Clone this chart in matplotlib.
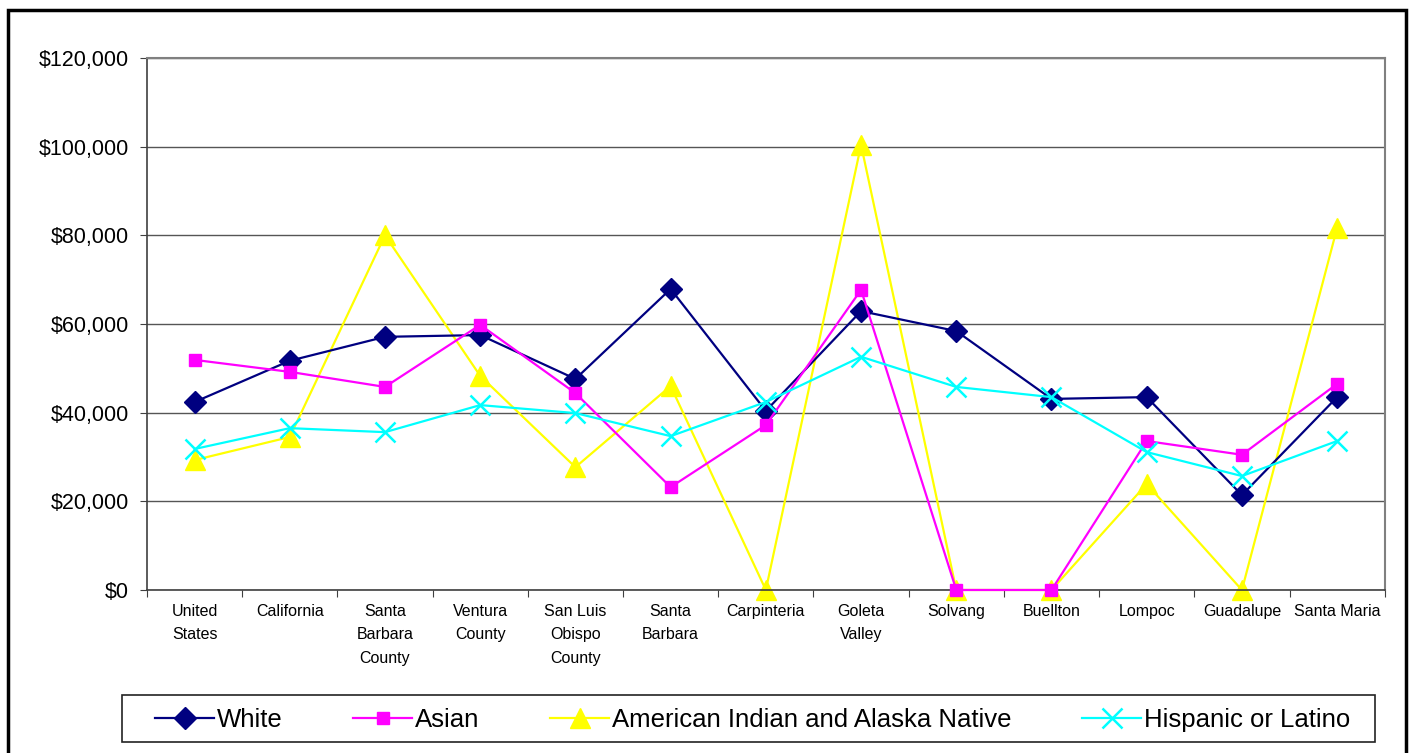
"""Median household income by race for Santa Barbara County area places."""

import matplotlib

matplotlib.use("Agg")

from matplotlib import pyplot as plt
from matplotlib.patches import Rectangle
from matplotlib.ticker import FuncFormatter

places = [
    "United\nStates",
    "California",
    "Santa\nBarbara\nCounty",
    "Ventura\nCounty",
    "San Luis\nObispo\nCounty",
    "Santa\nBarbara",
    "Carpinteria",
    "Goleta\nValley",
    "Solvang",
    "Buellton",
    "Lompoc",
    "Guadalupe",
    "Santa Maria",
]
white = [42400, 51700, 57100, 57500, 47600, 67900, 40400, 62900, 58400, 43100, 43500, 21400, 43500]
asian = [51900, 49200, 45800, 59800, 44400, 23200, 37200, 67700, 0, 0, 33600, 30500, 46500]
amer_indian = [29300, 34500, 80000, 48300, 27700, 46000, 0, 100400, 0, 0, 23900, 0, 81700]
hispanic = [31800, 36500, 35600, 41700, 39900, 34700, 42400, 52600, 45800, 43500, 31100, 25700, 33600]

plt.rcParams["font.family"] = ["Liberation Sans", "DejaVu Sans"]

W, H = 1413, 753
fig = plt.figure(figsize=(W / 100, H / 100), dpi=100)
ax = fig.add_axes([0.104, 0.2165, 0.876, 0.7065])

x = range(len(places))
ax.plot(x, white, color="#000080", marker="D", markersize=11, linewidth=1.6, label="White",
        zorder=3, clip_on=False)
ax.plot(x, asian, color="#FF00FF", marker="s", markersize=8, linewidth=1.6, label="Asian",
        zorder=4, clip_on=False)
ax.plot(
    x, amer_indian, color="#FFFF00", marker="^", markersize=15, linewidth=1.6,
    label="American Indian and Alaska Native", zorder=2, clip_on=False,
)
ax.plot(
    x, hispanic, color="#00FFFF", marker="x", markersize=14, markeredgewidth=1.8, linewidth=1.6,
    label="Hispanic or Latino", zorder=5, clip_on=False,
)

ax.set_xlim(-0.5, len(places) - 0.5)
ax.set_ylim(0, 120000)
ax.set_yticks(range(0, 120001, 20000))
ax.yaxis.set_major_formatter(FuncFormatter(lambda v, _: f"${v:,.0f}"))
ax.tick_params(axis="y", labelsize=15.5, length=5, color="#404040", pad=8)
ax.yaxis.grid(True, color="#555555", linewidth=1.0)
ax.set_axisbelow(True)

ax.set_xticks([i + 0.5 for i in range(-1, len(places))], minor=False)
ax.set_xticklabels([])
ax.set_xticks(list(x), minor=True)
ax.set_xticklabels(places, minor=True, fontsize=11.5, linespacing=1.7, va="top")
ax.tick_params(axis="x", which="major", length=5, color="#404040")
ax.tick_params(axis="x", which="minor", length=0, pad=10)

for side in ["top", "right"]:
    ax.spines[side].set_color("#808080")
    ax.spines[side].set_linewidth(1.5)
ax.spines["left"].set_color("#404040")
ax.spines["bottom"].set_color("#404040")
ax.spines["left"].set_linewidth(1.2)
ax.spines["bottom"].set_linewidth(1.2)

# legend box drawn separately so the entries can sit inset from its edges
fig.patches.append(
    Rectangle(
        (122 / W, 1 - 742 / H), 1253 / W, 47 / H,
        transform=fig.transFigure, fill=False, edgecolor="#222222", linewidth=1.2,
    )
)
fig.legend(
    loc="lower left",
    bbox_to_anchor=(155 / W, 1 - 732 / H, 1195 / W, 26 / H),
    mode="expand",
    ncol=4,
    fontsize=18.5,
    frameon=False,
    borderaxespad=0,
    borderpad=0,
    handlelength=2.3,
    handletextpad=0.1,
    columnspacing=1.0,
)

fig.patches.append(
    Rectangle(
        (8 / W, -0.05), 1398 / W, 1.05 - 10 / H,
        transform=fig.transFigure, fill=False, edgecolor="black", linewidth=2.5,
    )
)

fig.savefig("out.png", dpi=100)
